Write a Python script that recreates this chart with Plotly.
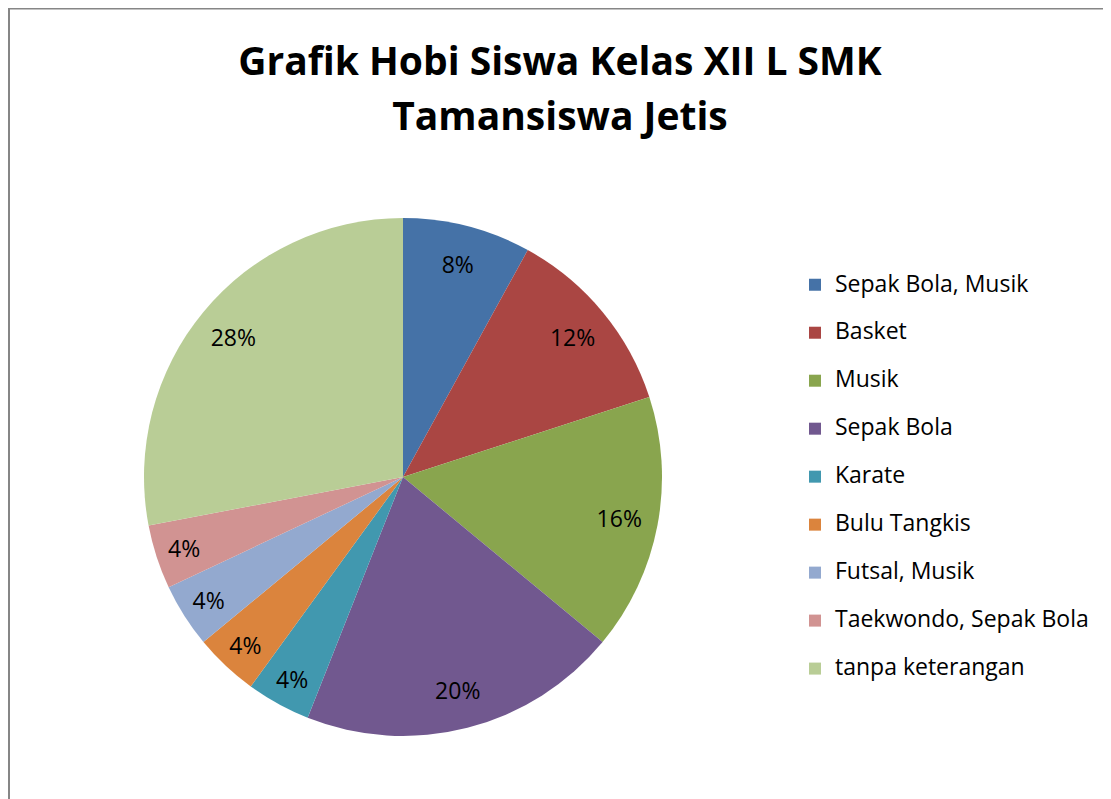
import plotly.graph_objects as go

hobi = ["Sepak Bola, Musik", "Basket", "Musik", "Sepak Bola", "Karate",
        "Bulu Tangkis", "Futsal, Musik", "Taekwondo, Sepak Bola", "tanpa keterangan"]
jumlah = [2, 3, 4, 5, 1, 1, 1, 1, 7]
warna = ["#4572A7", "#AA4643", "#89A54E", "#71588F", "#4198AF",
         "#DB843D", "#93A9CF", "#D19392", "#B9CD96"]

# page has an 8px body margin, so the figure is a bit smaller than the window
W, H = 1103, 791
FONT = "Open Sans"

# two-line labels give the legend Excel-like spacing between entries
legend_labels = [f"<span style='font-size:23px'>{h}</span><br> " for h in hobi]

pie_domain = dict(x=[136 / W, 654 / W], y=[1 - 728 / H, 1 - 210 / H])

fig = go.Figure()

# the coloured slices
fig.add_trace(go.Pie(
    labels=legend_labels,
    values=jumlah,
    sort=False,
    direction="clockwise",
    rotation=0,
    marker=dict(colors=warna, line=dict(width=0)),
    textinfo="none",
    hovertemplate="%{value} (%{percent})<extra></extra>",
    domain=pie_domain,
))

# transparent ring on top, just to put the % labels out near the rim like Excel
fig.add_trace(go.Pie(
    labels=hobi,
    values=jumlah,
    sort=False,
    direction="clockwise",
    rotation=0,
    hole=0.7,
    marker=dict(colors=["rgba(0,0,0,0)"] * len(hobi), line=dict(width=0)),
    texttemplate="%{percent:.0%}",
    textposition="inside",
    insidetextorientation="horizontal",
    textfont=dict(family=FONT, size=23, color="black"),
    showlegend=False,
    hoverinfo="skip",
    domain=pie_domain,
))

fig.update_layout(
    width=W, height=H,
    margin=dict(l=0, r=0, t=0, b=0),
    paper_bgcolor="white",
    font=dict(family=FONT, color="black"),
    title=dict(
        text="<span style='font-size:39px'>Grafik Hobi Siswa Kelas XII L SMK</span><br>"
             "<span style='font-size:39px'>Tamansiswa Jetis</span>",
        x=552 / W, xanchor="center",
        y=1 - 67 / H, yanchor="top",
        font=dict(family=FONT, size=42, color="black", weight="bold"),
    ),
    legend=dict(
        x=787 / W, xanchor="left",
        y=1 - 259 / H, yanchor="top",
        valign="top",
        font=dict(size=17.3),
        bgcolor="rgba(0,0,0,0)",
    ),
    uniformtext=dict(minsize=23, mode="show"),
    shapes=[dict(type="rect", xref="paper", yref="paper",
                 x0=1 / W, x1=1.05, y0=-0.05, y1=1 - 0.5 / H,
                 line=dict(color="#868686", width=2))],
)

fig.write_html("out.html")
